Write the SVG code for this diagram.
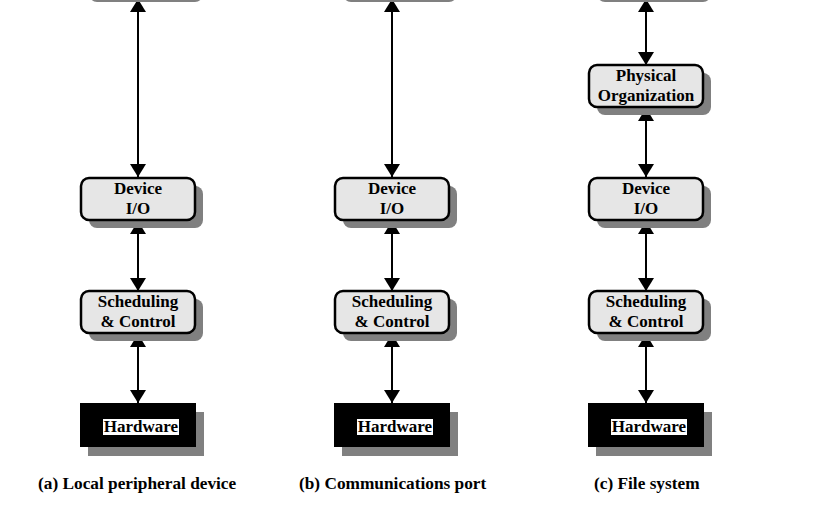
<svg xmlns="http://www.w3.org/2000/svg" width="817" height="527" viewBox="0 0 817 527">
<style>
.box{fill:#e6e6e6;stroke:#000;stroke-width:2.5}
.sh{fill:#808080}
.t{font-family:"Liberation Serif","Times New Roman",serif;font-weight:bold;font-size:17px;text-anchor:middle;fill:#000}
.cap{font-family:"Liberation Serif","Times New Roman",serif;font-weight:bold;font-size:17.3px;fill:#000}
.ln{stroke:#000;stroke-width:2;fill:none;marker-start:url(#ah);marker-end:url(#ah)}
</style>
<defs>
<marker id="ah" viewBox="0 0 13 16" refX="13" refY="8" markerWidth="13" markerHeight="16" markerUnits="userSpaceOnUse" orient="auto-start-reverse">
<path d="M0,0 L13,8 L0,16 Z" fill="#000"/>
</marker>
</defs>
<rect width="817" height="527" fill="#fff"/>
<g id="connectors">
<line class="ln" x1="138" y1="-1" x2="138" y2="177"/>
<line class="ln" x1="138" y1="221" x2="138" y2="291"/>
<line class="ln" x1="138" y1="334" x2="138" y2="403"/>
<line class="ln" x1="392" y1="-1" x2="392" y2="177"/>
<line class="ln" x1="392" y1="221" x2="392" y2="291"/>
<line class="ln" x1="392" y1="334" x2="392" y2="403"/>
<line class="ln" x1="646" y1="-1" x2="646" y2="65"/>
<line class="ln" x1="646" y1="108" x2="646" y2="177"/>
<line class="ln" x1="646" y1="221" x2="646" y2="291"/>
<line class="ln" x1="646" y1="334" x2="646" y2="403"/>
</g>
<g id="top-a"><rect class="sh" x="89" y="-40" width="114" height="42" rx="8"/><rect class="box" x="81" y="-48" width="114" height="42" rx="8"/></g>
<g id="top-b"><rect class="sh" x="343" y="-40" width="114" height="42" rx="8"/><rect class="box" x="335" y="-48" width="114" height="42" rx="8"/></g>
<g id="top-c"><rect class="sh" x="597" y="-40" width="114" height="42" rx="8"/><rect class="box" x="589" y="-48" width="114" height="42" rx="8"/></g>
<g id="phys-c"><rect class="sh" x="597" y="73" width="114" height="42" rx="8"/><rect class="box" x="589" y="65" width="114" height="42" rx="8"/><text class="t" x="646" y="81">Physical</text><text class="t" x="646" y="101">Organization</text></g>
<g id="dev-a"><rect class="sh" x="89" y="186" width="114" height="42" rx="8"/><rect class="box" x="81" y="178" width="114" height="42" rx="8"/><text class="t" x="138" y="194">Device</text><text class="t" x="138" y="214">I/O</text></g>
<g id="dev-b"><rect class="sh" x="343" y="186" width="114" height="42" rx="8"/><rect class="box" x="335" y="178" width="114" height="42" rx="8"/><text class="t" x="392" y="194">Device</text><text class="t" x="392" y="214">I/O</text></g>
<g id="dev-c"><rect class="sh" x="597" y="186" width="114" height="42" rx="8"/><rect class="box" x="589" y="178" width="114" height="42" rx="8"/><text class="t" x="646" y="194">Device</text><text class="t" x="646" y="214">I/O</text></g>
<g id="sched-a"><rect class="sh" x="89" y="299" width="114" height="42" rx="8"/><rect class="box" x="81" y="291" width="114" height="42" rx="8"/><text class="t" x="138" y="307">Scheduling</text><text class="t" x="138" y="327">&amp; Control</text></g>
<g id="sched-b"><rect class="sh" x="343" y="299" width="114" height="42" rx="8"/><rect class="box" x="335" y="291" width="114" height="42" rx="8"/><text class="t" x="392" y="307">Scheduling</text><text class="t" x="392" y="327">&amp; Control</text></g>
<g id="sched-c"><rect class="sh" x="597" y="299" width="114" height="42" rx="8"/><rect class="box" x="589" y="291" width="114" height="42" rx="8"/><text class="t" x="646" y="307">Scheduling</text><text class="t" x="646" y="327">&amp; Control</text></g>
<g id="hw-a"><rect class="sh" x="88" y="412" width="116" height="44"/><rect x="80" y="403" width="116" height="44" fill="#000"/><rect x="103" y="419" width="76" height="16" fill="#fff"/><text class="t" x="141" y="432">Hardware</text></g>
<g id="hw-b"><rect class="sh" x="342" y="412" width="116" height="44"/><rect x="334" y="403" width="116" height="44" fill="#000"/><rect x="357" y="419" width="76" height="16" fill="#fff"/><text class="t" x="395" y="432">Hardware</text></g>
<g id="hw-c"><rect class="sh" x="596" y="412" width="116" height="44"/><rect x="588" y="403" width="116" height="44" fill="#000"/><rect x="611" y="419" width="76" height="16" fill="#fff"/><text class="t" x="649" y="432">Hardware</text></g>
<g id="captions">
<text class="cap" x="38" y="489">(a) Local peripheral device</text>
<text class="cap" x="299" y="489">(b) Communications port</text>
<text class="cap" x="594" y="489">(c) File system</text>
</g>
</svg>
